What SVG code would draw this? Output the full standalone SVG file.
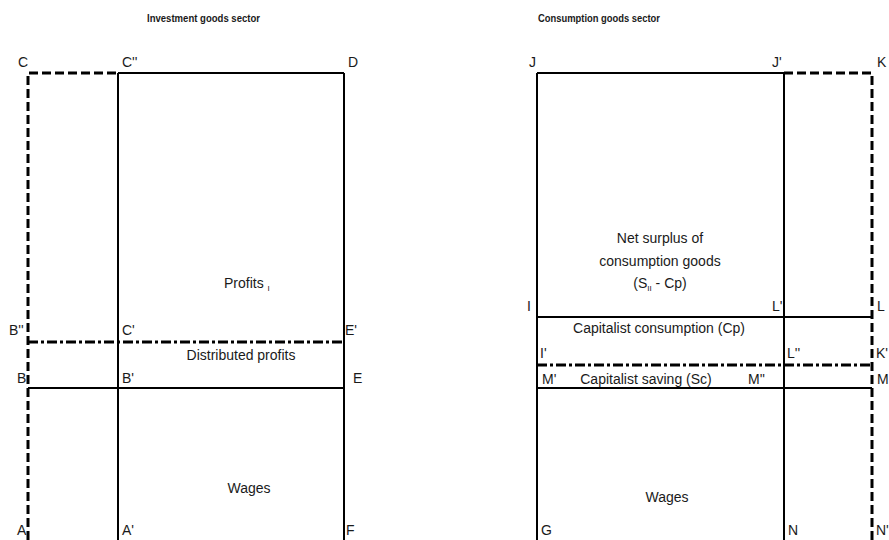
<svg xmlns="http://www.w3.org/2000/svg" width="889" height="540" viewBox="0 0 889 540">
<style>
  .s{stroke:#000;stroke-width:2;fill:none}
  .d{stroke:#000;stroke-width:3;fill:none;stroke-dasharray:9 4}
  .dd{stroke:#000;stroke-width:3;fill:none;stroke-dasharray:10 3 3 3}
  text{font-family:"Liberation Sans",Arial,sans-serif;font-size:14px;fill:#1a1a1a}
  .t{font-weight:bold;font-size:11.5px}
  .m{text-anchor:middle}
  .sub{font-size:8px}
</style>
<rect width="889" height="540" fill="#fff"/>
<text class="t" x="147" y="22" textLength="113" lengthAdjust="spacingAndGlyphs">Investment goods sector</text>
<text class="t" x="538" y="22" textLength="122" lengthAdjust="spacingAndGlyphs">Consumption goods sector</text>
<g id="connectors">
  <path class="d" d="M28,540 V73 H118"/>
  <path class="s" d="M118,73 H344 M118,73 V540 M344,73 V540"/>
  <path class="dd" d="M28,342 H344"/>
  <path class="s" d="M28,388 H344"/>
  <path class="s" d="M537,73 H784 M537,73 V540 M784,73 V540"/>
  <path class="d" d="M784,73 H872 V540"/>
  <path class="s" d="M537,317 H872"/>
  <path class="dd" d="M537,365 H872"/>
  <path class="s" d="M537,388 H872"/>
</g>
<g id="investment-labels">
  <text x="18" y="67">C</text>
  <text x="122" y="67">C''</text>
  <text x="348" y="67">D</text>
  <text x="9" y="335">B''</text>
  <text x="122" y="335">C'</text>
  <text x="345" y="335">E'</text>
  <text x="17" y="383">B</text>
  <text x="122" y="383">B'</text>
  <text x="353" y="383">E</text>
  <text x="17" y="535">A</text>
  <text x="122" y="535">A'</text>
  <text x="346" y="535">F</text>
</g>
<g id="node-profits"><text x="224" y="288">Profits <tspan class="sub" dy="3">I</tspan></text></g>
<g id="node-distributed"><text class="m" x="241" y="360">Distributed profits</text></g>
<g id="node-wages-i"><text class="m" x="249" y="493">Wages</text></g>
<g id="consumption-labels">
  <text x="529" y="67">J</text>
  <text x="772" y="67">J'</text>
  <text x="877" y="67">K</text>
  <text x="527" y="311">I</text>
  <text x="772" y="311">L'</text>
  <text x="877" y="311">L</text>
  <text x="540" y="358">I'</text>
  <text x="787" y="358">L''</text>
  <text x="876" y="358">K'</text>
  <text x="542" y="384">M'</text>
  <text x="748" y="384">M''</text>
  <text x="877" y="384">M</text>
  <text x="541" y="535">G</text>
  <text x="788" y="535">N</text>
  <text x="876" y="535">N'</text>
</g>
<g id="node-surplus">
  <text class="m" x="660" y="243">Net surplus of</text>
  <text class="m" x="660" y="266">consumption goods</text>
  <text class="m" x="660" y="288">(S<tspan class="sub" dy="3">II</tspan><tspan dy="-3"> - Cp)</tspan></text>
</g>
<g id="node-cp"><text class="m" x="659" y="333">Capitalist consumption (Cp)</text></g>
<g id="node-sc"><text class="m" x="646" y="384">Capitalist saving (Sc)</text></g>
<g id="node-wages-c"><text class="m" x="667" y="502">Wages</text></g>
</svg>
